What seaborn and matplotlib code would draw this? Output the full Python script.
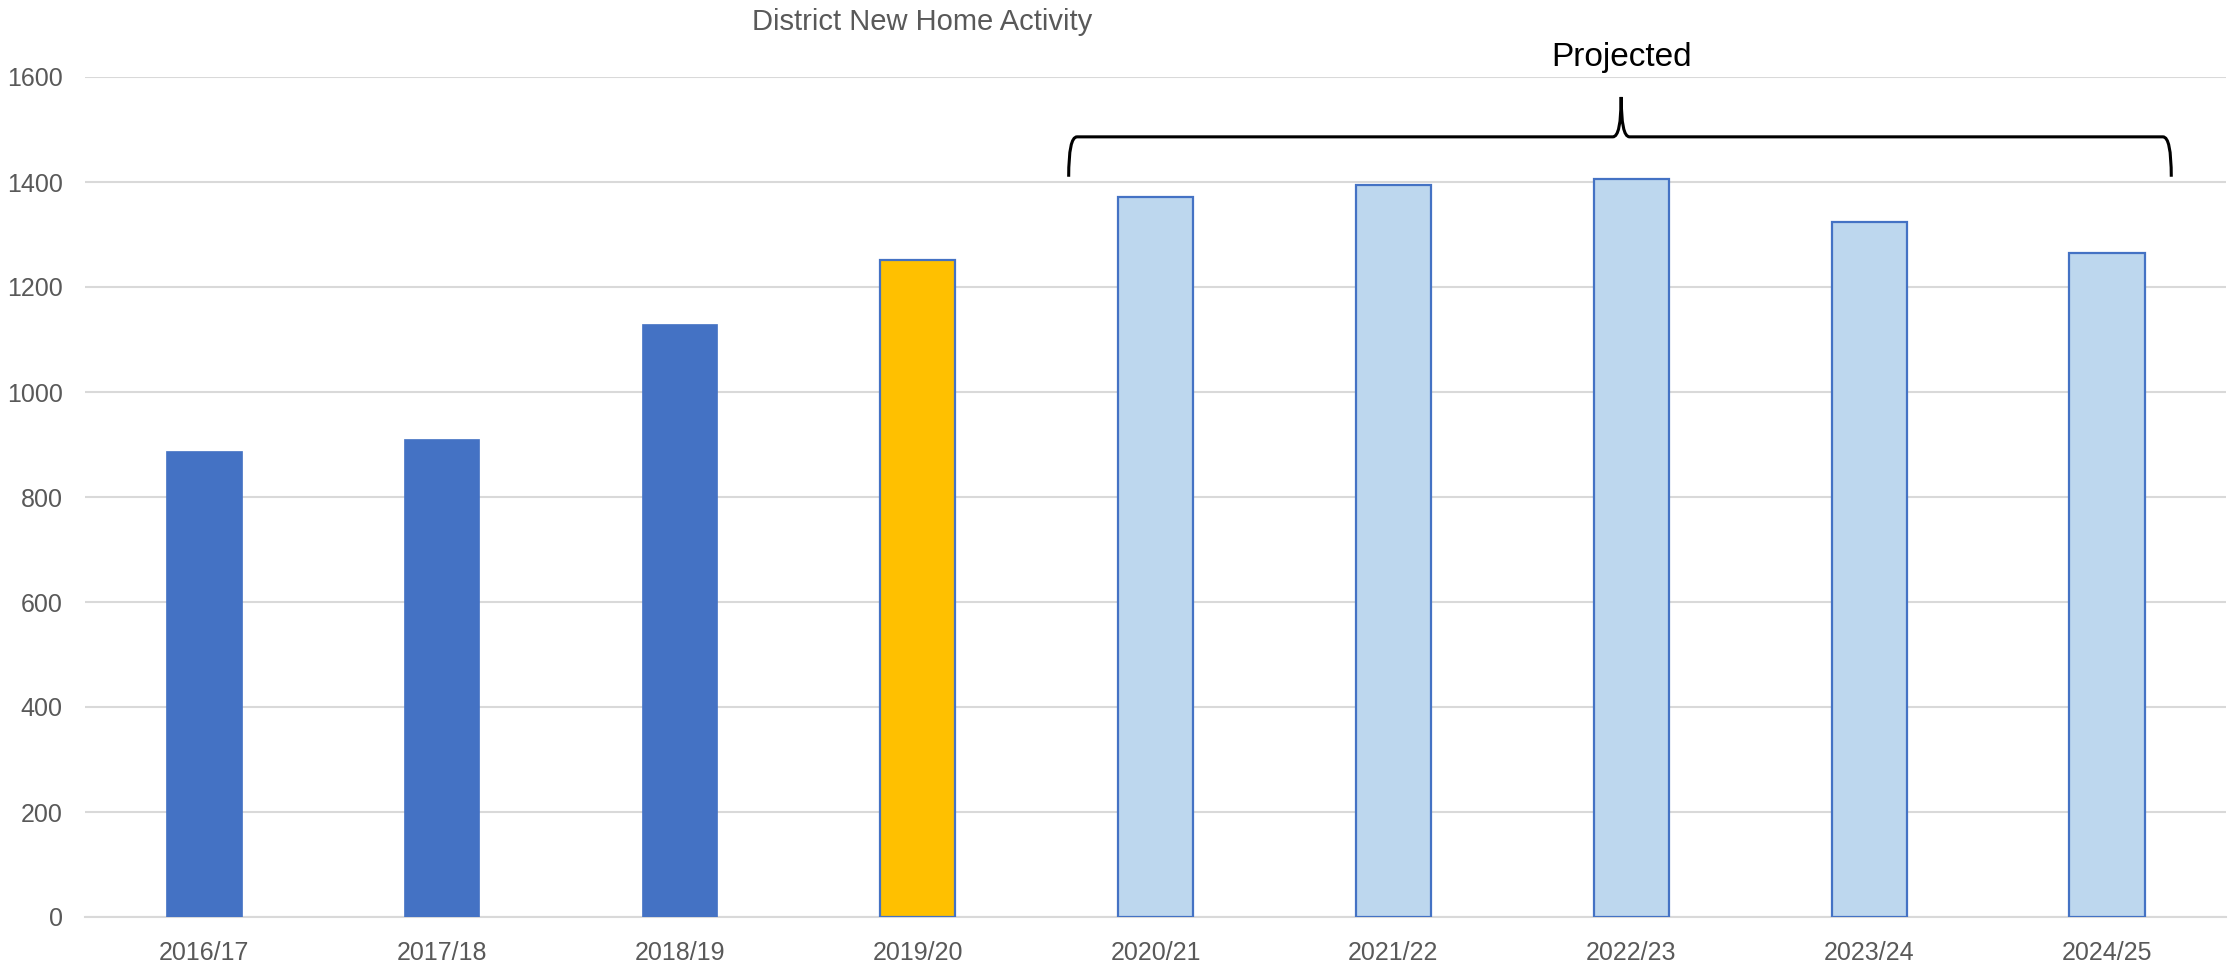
import matplotlib
matplotlib.use("Agg")
import matplotlib.pyplot as plt
import seaborn as sns
import pandas as pd
from matplotlib.path import Path
from matplotlib.patches import PathPatch

# ---- data ----
years = ["2016/17", "2017/18", "2018/19", "2019/20", "2020/21",
         "2021/22", "2022/23", "2023/24", "2024/25"]
homes = [888, 910, 1130, 1252, 1371, 1395, 1406, 1324, 1264]
status = ["Actual", "Actual", "Actual", "Current", "Projected",
          "Projected", "Projected", "Projected", "Projected"]
y_ticks = [0, 200, 400, 600, 800, 1000, 1200, 1400, 1600]
title = "District New Home Activity"
brace_label = "Projected"

fill_colors = {"Actual": "#4472C4", "Current": "#FFC000", "Projected": "#BDD7EE"}
edge_colors = {"Actual": "#4472C4", "Current": "#4472C4", "Projected": "#4472C4"}

df = pd.DataFrame({"year": years, "homes": homes, "status": status})

sns.set_theme(style="white")
plt.rcParams["font.family"] = ["Liberation Sans", "DejaVu Sans"]

fig = plt.figure(figsize=(22.39, 9.67), dpi=100)
ax = fig.add_axes([85 / 2239, 1 - 917 / 967, (2226 - 85) / 2239, (917 - 77) / 967])

sns.barplot(data=df, x="year", y="homes", hue="year",
            palette=[fill_colors[s] for s in status], legend=False,
            width=0.316, ax=ax, saturation=1)

for patch, s in zip(ax.patches, status):
    patch.set_edgecolor(edge_colors[s])
    patch.set_linewidth(1.6 if s != "Actual" else 0.5)
    patch.set_zorder(3)

ax.set_ylim(0, 1600)
ax.set_xlim(-0.5, len(years) - 0.5)
ax.set_yticks(y_ticks)
ax.yaxis.grid(True, color="#D9D9D9", linewidth=1.5, zorder=0)
ax.xaxis.grid(False)
ax.set_axisbelow(True)
for side in ["top", "right", "left"]:
    ax.spines[side].set_visible(False)
ax.spines["bottom"].set_color("#D9D9D9")
ax.spines["bottom"].set_linewidth(1.5)
ax.tick_params(axis="both", length=0, labelsize=18, labelcolor="#595959")
ax.tick_params(axis="x", pad=17)
ax.tick_params(axis="y", pad=16)
ax.set_xlabel("")
ax.set_ylabel("")

fig.text(922 / 2239, 1 - 22 / 967, title, ha="center", va="center",
         fontsize=21, color="#595959")

# ---- brace over projected years ----
proj_idx = [i for i, s in enumerate(status) if s == "Projected"]
x0 = proj_idx[0] - 0.365
x1 = proj_idx[-1] + 0.27
xp = (x0 + x1) / 2 + 0.005
y_low, y_h, y_tip = 1410, 1486, 1562
r = 0.035
verts = [
    (x0, y_low), (x0, y_h), (x0 + r, y_h),
    (xp - r, y_h),
    (xp, y_h), (xp, y_tip),
    (xp, y_h), (xp + r, y_h),
    (x1 - r, y_h),
    (x1, y_h), (x1, y_low),
]
codes = [Path.MOVETO, Path.CURVE3, Path.CURVE3,
         Path.LINETO,
         Path.CURVE3, Path.CURVE3,
         Path.CURVE3, Path.CURVE3,
         Path.LINETO,
         Path.CURVE3, Path.CURVE3]
ax.add_patch(PathPatch(Path(verts, codes), facecolor="none", edgecolor="black",
                       linewidth=2.2, clip_on=False, zorder=5))
ax.text(xp, 1638, brace_label, ha="center", va="center", fontsize=24,
        color="black", clip_on=False)

fig.savefig("out.png", dpi=100, facecolor="white")
